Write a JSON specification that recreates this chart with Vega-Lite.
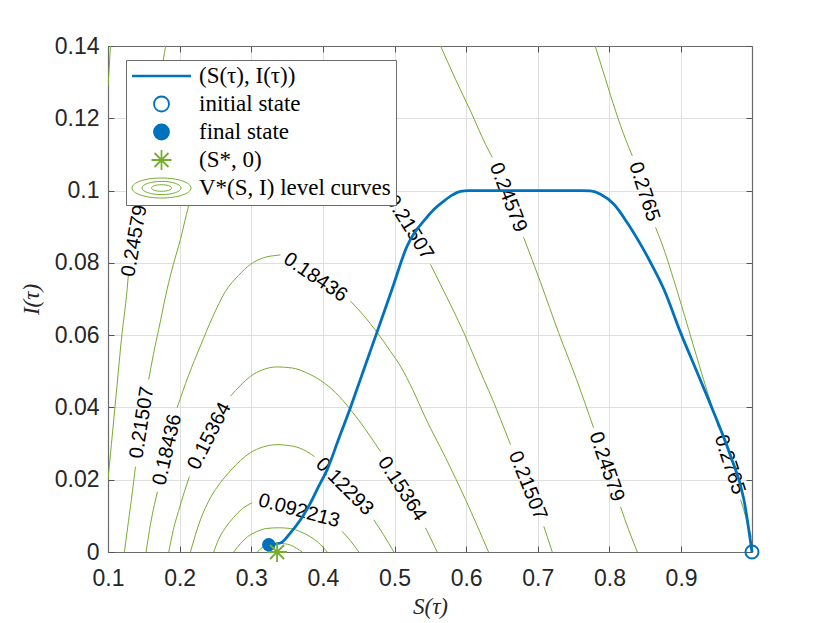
{
  "$schema": "https://vega.github.io/schema/vega-lite/v6.json",
  "description": "Optimal SIR trajectory (S(tau), I(tau)) over the level curves of V*(S, I).",
  "width": 644,
  "height": 506,
  "autosize": {"type": "none"},
  "padding": {"left": 108, "top": 46, "right": 78, "bottom": 71},
  "background": "white",
  "view": {"stroke": null},
  "datasets": {
    "contours": [
      {"level": "0.0307", "part": 1, "S": 0.3082, "I": 0},
      {"level": "0.0307", "part": 1, "S": 0.3142, "I": 0.00105},
      {"level": "0.0307", "part": 1, "S": 0.3212, "I": 0.00175},
      {"level": "0.0307", "part": 1, "S": 0.3296, "I": 0.0023},
      {"level": "0.0307", "part": 1, "S": 0.338, "I": 0.00244},
      {"level": "0.0307", "part": 1, "S": 0.3463, "I": 0.0023},
      {"level": "0.0307", "part": 1, "S": 0.3547, "I": 0.0019},
      {"level": "0.0307", "part": 1, "S": 0.3631, "I": 0.00105},
      {"level": "0.0307", "part": 1, "S": 0.3711, "I": 0},

      {"level": "0.0614", "part": 1, "S": 0.2755, "I": 0},
      {"level": "0.0614", "part": 1, "S": 0.2849, "I": 0.0023},
      {"level": "0.0614", "part": 1, "S": 0.2947, "I": 0.0042},
      {"level": "0.0614", "part": 1, "S": 0.3073, "I": 0.0056},
      {"level": "0.0614", "part": 1, "S": 0.3212, "I": 0.0065},
      {"level": "0.0614", "part": 1, "S": 0.338, "I": 0.0067},
      {"level": "0.0614", "part": 1, "S": 0.3547, "I": 0.0065},
      {"level": "0.0614", "part": 1, "S": 0.3687, "I": 0.0056},
      {"level": "0.0614", "part": 1, "S": 0.3827, "I": 0.0042},
      {"level": "0.0614", "part": 1, "S": 0.3938, "I": 0.0026},
      {"level": "0.0614", "part": 1, "S": 0.406, "I": 0},

      {"level": "0.092213", "part": 1, "S": 0.2476, "I": 0},
      {"level": "0.092213", "part": 1, "S": 0.2542, "I": 0.0034},
      {"level": "0.092213", "part": 1, "S": 0.2639, "I": 0.0067},
      {"level": "0.092213", "part": 1, "S": 0.2751, "I": 0.0095},
      {"level": "0.092213", "part": 1, "S": 0.2877, "I": 0.012},
      {"level": "0.092213", "part": 1, "S": 0.3012, "I": 0.0136},
      {"level": "0.092213", "part": 2, "S": 0.4269, "I": 0.0057},
      {"level": "0.092213", "part": 2, "S": 0.4385, "I": 0.0031},
      {"level": "0.092213", "part": 2, "S": 0.4501, "I": 0},

      {"level": "0.12293", "part": 1, "S": 0.2151, "I": 0},
      {"level": "0.12293", "part": 1, "S": 0.2221, "I": 0.0048},
      {"level": "0.12293", "part": 1, "S": 0.229, "I": 0.0089},
      {"level": "0.12293", "part": 1, "S": 0.243, "I": 0.015},
      {"level": "0.12293", "part": 1, "S": 0.257, "I": 0.0192},
      {"level": "0.12293", "part": 1, "S": 0.2709, "I": 0.0225},
      {"level": "0.12293", "part": 1, "S": 0.2849, "I": 0.0253},
      {"level": "0.12293", "part": 1, "S": 0.2989, "I": 0.0275},
      {"level": "0.12293", "part": 1, "S": 0.3156, "I": 0.029},
      {"level": "0.12293", "part": 1, "S": 0.3361, "I": 0.0297},
      {"level": "0.12293", "part": 1, "S": 0.3547, "I": 0.0294},
      {"level": "0.12293", "part": 1, "S": 0.3729, "I": 0.0283},
      {"level": "0.12293", "part": 1, "S": 0.3883, "I": 0.0264},
      {"level": "0.12293", "part": 2, "S": 0.471, "I": 0.0089},
      {"level": "0.12293", "part": 2, "S": 0.4846, "I": 0.0048},
      {"level": "0.12293", "part": 2, "S": 0.499, "I": 0},

      {"level": "0.15364", "part": 1, "S": 0.1848, "I": 0},
      {"level": "0.15364", "part": 1, "S": 0.1913, "I": 0.0062},
      {"level": "0.15364", "part": 1, "S": 0.1983, "I": 0.0112},
      {"level": "0.15364", "part": 1, "S": 0.2067, "I": 0.0167},
      {"level": "0.15364", "part": 1, "S": 0.2137, "I": 0.0209},
      {"level": "0.15364", "part": 2, "S": 0.2709, "I": 0.0431},
      {"level": "0.15364", "part": 2, "S": 0.2849, "I": 0.0461},
      {"level": "0.15364", "part": 2, "S": 0.2989, "I": 0.0486},
      {"level": "0.15364", "part": 2, "S": 0.3156, "I": 0.0504},
      {"level": "0.15364", "part": 2, "S": 0.3361, "I": 0.0512},
      {"level": "0.15364", "part": 2, "S": 0.3575, "I": 0.0509},
      {"level": "0.15364", "part": 2, "S": 0.3757, "I": 0.0497},
      {"level": "0.15364", "part": 2, "S": 0.3966, "I": 0.0475},
      {"level": "0.15364", "part": 2, "S": 0.4176, "I": 0.0441},
      {"level": "0.15364", "part": 2, "S": 0.4385, "I": 0.0394},
      {"level": "0.15364", "part": 2, "S": 0.4594, "I": 0.0339},
      {"level": "0.15364", "part": 2, "S": 0.4804, "I": 0.0278},
      {"level": "0.15364", "part": 3, "S": 0.5432, "I": 0.0067},
      {"level": "0.15364", "part": 3, "S": 0.5596, "I": 0},

      {"level": "0.18436", "part": 1, "S": 0.1532, "I": 0},
      {"level": "0.18436", "part": 1, "S": 0.1592, "I": 0.0076},
      {"level": "0.18436", "part": 1, "S": 0.1648, "I": 0.0131},
      {"level": "0.18436", "part": 1, "S": 0.169, "I": 0.0167},
      {"level": "0.18436", "part": 2, "S": 0.1965, "I": 0.0399},
      {"level": "0.18436", "part": 2, "S": 0.2123, "I": 0.0488},
      {"level": "0.18436", "part": 2, "S": 0.229, "I": 0.057},
      {"level": "0.18436", "part": 2, "S": 0.2458, "I": 0.0649},
      {"level": "0.18436", "part": 2, "S": 0.2639, "I": 0.0721},
      {"level": "0.18436", "part": 2, "S": 0.2821, "I": 0.0765},
      {"level": "0.18436", "part": 2, "S": 0.2989, "I": 0.0796},
      {"level": "0.18436", "part": 2, "S": 0.317, "I": 0.0814},
      {"level": "0.18436", "part": 2, "S": 0.3361, "I": 0.0821},
      {"level": "0.18436", "part": 2, "S": 0.3407, "I": 0.0822},
      {"level": "0.18436", "part": 3, "S": 0.4385, "I": 0.0694},
      {"level": "0.18436", "part": 3, "S": 0.4567, "I": 0.0655},
      {"level": "0.18436", "part": 3, "S": 0.4758, "I": 0.0607},
      {"level": "0.18436", "part": 3, "S": 0.4944, "I": 0.0555},
      {"level": "0.18436", "part": 3, "S": 0.5083, "I": 0.0514},
      {"level": "0.18436", "part": 3, "S": 0.5251, "I": 0.045},
      {"level": "0.18436", "part": 3, "S": 0.5432, "I": 0.0371},
      {"level": "0.18436", "part": 3, "S": 0.5712, "I": 0.0261},
      {"level": "0.18436", "part": 3, "S": 0.5991, "I": 0.0145},
      {"level": "0.18436", "part": 3, "S": 0.6312, "I": 0},

      {"level": "0.21507", "part": 1, "S": 0.1229, "I": 0},
      {"level": "0.21507", "part": 1, "S": 0.1285, "I": 0.0084},
      {"level": "0.21507", "part": 1, "S": 0.1341, "I": 0.0167},
      {"level": "0.21507", "part": 1, "S": 0.1383, "I": 0.0236},
      {"level": "0.21507", "part": 2, "S": 0.1568, "I": 0.0477},
      {"level": "0.21507", "part": 2, "S": 0.1634, "I": 0.0547},
      {"level": "0.21507", "part": 2, "S": 0.1708, "I": 0.0616},
      {"level": "0.21507", "part": 2, "S": 0.1825, "I": 0.0727},
      {"level": "0.21507", "part": 2, "S": 0.1913, "I": 0.0796},
      {"level": "0.21507", "part": 2, "S": 0.2011, "I": 0.0865},
      {"level": "0.21507", "part": 2, "S": 0.2095, "I": 0.0934},
      {"level": "0.21507", "part": 2, "S": 0.2179, "I": 0.0998},
      {"level": "0.21507", "part": 2, "S": 0.229, "I": 0.1059},
      {"level": "0.21507", "part": 2, "S": 0.243, "I": 0.112},
      {"level": "0.21507", "part": 2, "S": 0.2639, "I": 0.1184},
      {"level": "0.21507", "part": 2, "S": 0.2919, "I": 0.1239},
      {"level": "0.21507", "part": 2, "S": 0.3198, "I": 0.1267},
      {"level": "0.21507", "part": 2, "S": 0.3407, "I": 0.1275},
      {"level": "0.21507", "part": 2, "S": 0.3687, "I": 0.1267},
      {"level": "0.21507", "part": 2, "S": 0.3966, "I": 0.1245},
      {"level": "0.21507", "part": 2, "S": 0.4245, "I": 0.1206},
      {"level": "0.21507", "part": 2, "S": 0.4525, "I": 0.1157},
      {"level": "0.21507", "part": 2, "S": 0.4734, "I": 0.1101},
      {"level": "0.21507", "part": 2, "S": 0.4888, "I": 0.1009},
      {"level": "0.21507", "part": 3, "S": 0.5502, "I": 0.0796},
      {"level": "0.21507", "part": 3, "S": 0.5642, "I": 0.074},
      {"level": "0.21507", "part": 3, "S": 0.5809, "I": 0.0673},
      {"level": "0.21507", "part": 3, "S": 0.5967, "I": 0.0607},
      {"level": "0.21507", "part": 3, "S": 0.613, "I": 0.0531},
      {"level": "0.21507", "part": 3, "S": 0.6247, "I": 0.0477},
      {"level": "0.21507", "part": 3, "S": 0.6368, "I": 0.0422},
      {"level": "0.21507", "part": 3, "S": 0.648, "I": 0.0367},
      {"level": "0.21507", "part": 3, "S": 0.6619, "I": 0.0297},
      {"level": "0.21507", "part": 4, "S": 0.7084, "I": 0.0071},
      {"level": "0.21507", "part": 4, "S": 0.7136, "I": 0.004},
      {"level": "0.21507", "part": 4, "S": 0.7202, "I": 0},

      {"level": "0.24579", "part": 1, "S": 0.1, "I": 0.02},
      {"level": "0.24579", "part": 1, "S": 0.1047, "I": 0.0297},
      {"level": "0.24579", "part": 1, "S": 0.1127, "I": 0.0463},
      {"level": "0.24579", "part": 1, "S": 0.1187, "I": 0.0588},
      {"level": "0.24579", "part": 1, "S": 0.1267, "I": 0.0727},
      {"level": "0.24579", "part": 1, "S": 0.1285, "I": 0.0768},
      {"level": "0.24579", "part": 2, "S": 0.1466, "I": 0.0976},
      {"level": "0.24579", "part": 2, "S": 0.1536, "I": 0.1059},
      {"level": "0.24579", "part": 2, "S": 0.162, "I": 0.117},
      {"level": "0.24579", "part": 2, "S": 0.1704, "I": 0.1267},
      {"level": "0.24579", "part": 2, "S": 0.1774, "I": 0.1364},
      {"level": "0.24579", "part": 2, "S": 0.1804, "I": 0.14},
      {"level": "0.24579", "part": 3, "S": 0.5642, "I": 0.14},
      {"level": "0.24579", "part": 3, "S": 0.5851, "I": 0.1308},
      {"level": "0.24579", "part": 3, "S": 0.6061, "I": 0.122},
      {"level": "0.24579", "part": 3, "S": 0.627, "I": 0.1128},
      {"level": "0.24579", "part": 3, "S": 0.6364, "I": 0.1092},
      {"level": "0.24579", "part": 4, "S": 0.6801, "I": 0.0871},
      {"level": "0.24579", "part": 4, "S": 0.7038, "I": 0.0746},
      {"level": "0.24579", "part": 4, "S": 0.729, "I": 0.0607},
      {"level": "0.24579", "part": 4, "S": 0.7541, "I": 0.0477},
      {"level": "0.24579", "part": 4, "S": 0.7778, "I": 0.0344},
      {"level": "0.24579", "part": 5, "S": 0.8155, "I": 0.0125},
      {"level": "0.24579", "part": 5, "S": 0.8267, "I": 0.0062},
      {"level": "0.24579", "part": 5, "S": 0.8389, "I": 0},

      {"level": "0.2765", "part": 1, "S": 0.1, "I": 0.1289},
      {"level": "0.2765", "part": 1, "S": 0.102, "I": 0.135},
      {"level": "0.2765", "part": 1, "S": 0.1034, "I": 0.14},
      {"level": "0.2765", "part": 2, "S": 0.7801, "I": 0.14},
      {"level": "0.2765", "part": 2, "S": 0.7946, "I": 0.1308},
      {"level": "0.2765", "part": 2, "S": 0.8086, "I": 0.122},
      {"level": "0.2765", "part": 2, "S": 0.8225, "I": 0.1142},
      {"level": "0.2765", "part": 2, "S": 0.8319, "I": 0.1096},
      {"level": "0.2765", "part": 3, "S": 0.8644, "I": 0.0898},
      {"level": "0.2765", "part": 3, "S": 0.877, "I": 0.0832},
      {"level": "0.2765", "part": 3, "S": 0.8896, "I": 0.0754},
      {"level": "0.2765", "part": 3, "S": 0.9105, "I": 0.0616},
      {"level": "0.2765", "part": 3, "S": 0.9314, "I": 0.0477},
      {"level": "0.2765", "part": 3, "S": 0.9524, "I": 0.0344},
      {"level": "0.2765", "part": 4, "S": 0.9831, "I": 0.0145},
      {"level": "0.2765", "part": 4, "S": 0.9915, "I": 0.0089},
      {"level": "0.2765", "part": 4, "S": 0.998, "I": 0.0042}
    ],
    "labels": [
      {"S": 0.3666, "I": 0.0114, "text": "0.092213", "angle": 15},
      {"S": 0.4301, "I": 0.0181, "text": "0.12293", "angle": 45},
      {"S": 0.2416, "I": 0.0321, "text": "0.15364", "angle": -63},
      {"S": 0.5104, "I": 0.0175, "text": "0.15364", "angle": 57},
      {"S": 0.1829, "I": 0.0283, "text": "0.18436", "angle": -77},
      {"S": 0.3896, "I": 0.076, "text": "0.18436", "angle": 34},
      {"S": 0.1473, "I": 0.0358, "text": "0.21507", "angle": -81},
      {"S": 0.5209, "I": 0.0898, "text": "0.21507", "angle": 58},
      {"S": 0.6857, "I": 0.0184, "text": "0.21507", "angle": 68},
      {"S": 0.1369, "I": 0.0861, "text": "0.24579", "angle": -80},
      {"S": 0.6584, "I": 0.0981, "text": "0.24579", "angle": 69},
      {"S": 0.796, "I": 0.0236, "text": "0.24579", "angle": 71},
      {"S": 0.8484, "I": 0.0997, "text": "0.2765", "angle": 72},
      {"S": 0.9677, "I": 0.0242, "text": "0.2765", "angle": 72}
    ],
    "path": [
      {"S": 0.3244, "I": 0.002},
      {"S": 0.3407, "I": 0.0025},
      {"S": 0.3547, "I": 0.0053},
      {"S": 0.3687, "I": 0.0089},
      {"S": 0.3827, "I": 0.0136},
      {"S": 0.3942, "I": 0.0182},
      {"S": 0.406, "I": 0.0228},
      {"S": 0.4217, "I": 0.0311},
      {"S": 0.4385, "I": 0.04},
      {"S": 0.4522, "I": 0.0477},
      {"S": 0.4753, "I": 0.0607},
      {"S": 0.4965, "I": 0.0727},
      {"S": 0.5177, "I": 0.0847},
      {"S": 0.528, "I": 0.0884},
      {"S": 0.5409, "I": 0.0916},
      {"S": 0.5545, "I": 0.0947},
      {"S": 0.5688, "I": 0.0971},
      {"S": 0.581, "I": 0.0988},
      {"S": 0.5921, "I": 0.0998},
      {"S": 0.6033, "I": 0.1},
      {"S": 0.7597, "I": 0.1},
      {"S": 0.7736, "I": 0.0999},
      {"S": 0.7876, "I": 0.099},
      {"S": 0.8062, "I": 0.0962},
      {"S": 0.8249, "I": 0.0911},
      {"S": 0.8435, "I": 0.0851},
      {"S": 0.8574, "I": 0.0801},
      {"S": 0.876, "I": 0.0727},
      {"S": 0.8993, "I": 0.0607},
      {"S": 0.9227, "I": 0.0496},
      {"S": 0.9458, "I": 0.0385},
      {"S": 0.9692, "I": 0.0265},
      {"S": 0.9877, "I": 0.0145},
      {"S": 0.999, "I": 0}
    ]
  },
  "layer": [
    {
      "data": {"name": "contours"},
      "mark": {"type": "line", "strokeWidth": 1, "clip": true, "interpolate": "monotone"},
      "encoding": {
        "x": {
          "field": "S",
          "type": "quantitative",
          "scale": {"domain": [0.1, 0.999], "nice": false, "zero": false},
          "axis": {
            "values": [0.1, 0.2, 0.3, 0.4, 0.5, 0.6, 0.7, 0.8, 0.9],
            "format": ".1f",
            "title": "S(τ)",
            "grid": true,
            "gridColor": "#dfdfdf",
            "gridWidth": 1,
            "tickSize": -6,
            "tickColor": "#555555",
            "domainColor": "#6b6b6b",
            "domainWidth": 1.2,
            "labelFont": "Liberation Sans",
            "labelFontSize": 23,
            "labelColor": "#262626",
            "labelPadding": 21,
            "labelFlush": false,
            "labelOverlap": false,
            "titleFont": "Liberation Serif",
            "titleFontSize": 23,
            "titleFontStyle": "italic",
            "titleFontWeight": "normal",
            "titleColor": "#262626",
            "titlePadding": 5
          }
        },
        "y": {
          "field": "I",
          "type": "quantitative",
          "scale": {"domain": [0, 0.14], "nice": false, "zero": false},
          "axis": {
            "values": [0, 0.02, 0.04, 0.06, 0.08, 0.1, 0.12, 0.14],
            "format": ".2~f",
            "title": "I(τ)",
            "grid": true,
            "gridColor": "#dfdfdf",
            "gridWidth": 1,
            "tickSize": -6,
            "tickColor": "#555555",
            "domainColor": "#6b6b6b",
            "domainWidth": 1.2,
            "labelFont": "Liberation Sans",
            "labelFontSize": 23,
            "labelColor": "#262626",
            "labelPadding": 15,
            "labelFlush": false,
            "labelOverlap": false,
            "titleFont": "Liberation Serif",
            "titleFontSize": 23,
            "titleFontStyle": "italic",
            "titleFontWeight": "normal",
            "titleColor": "#262626",
            "titlePadding": 11
          }
        },
        "detail": [{"field": "level"}, {"field": "part"}],
        "color": {
          "datum": "V*(S, I) level curves",
          "type": "nominal",
          "scale": {
            "domain": ["(S(τ), I(τ))", "initial state", "final state", "(S*, 0)", "V*(S, I) level curves"],
            "range": ["#0072BD", "#0072BD", "#0072BD", "#77AC30", "#77AC30"]
          },
          "legend": {
            "title": null,
            "orient": "none",
            "direction": "vertical",
            "legendX": 18,
            "legendY": 14,
            "fillColor": "white",
            "strokeColor": "#6b6b6b",
            "padding": 5,
            "cornerRadius": 0,
            "labelFont": "Liberation Serif",
            "labelFontSize": 23,
            "labelColor": "black",
            "labelLimit": 400,
            "symbolSize": 400,
            "symbolOffset": 19,
            "labelOffset": 26,
            "clipHeight": 22,
            "rowPadding": 5,
            "encode": {
              "symbols": {
                "update": {
                  "shape": {"signal": "datum.index === 0 ? 'M-2.95,0L2.95,0' : datum.index <= 2 ? 'M-0.75,0A0.75,0.75 0 1,0 0.75,0A0.75,0.75 0 1,0 -0.75,0Z' : datum.index === 3 ? 'M-1,0L1,0M0,-1L0,1M-0.7,-0.7L0.7,0.7M-0.7,0.7L0.7,-0.7' : 'M-2.95,0A2.95,1 0 1,0 2.95,0A2.95,1 0 1,0 -2.95,0ZM-1.95,0A1.95,0.66 0 1,0 1.95,0A1.95,0.66 0 1,0 -1.95,0ZM-1,0A1,0.33 0 1,0 1,0A1,0.33 0 1,0 -1,0Z'"},
                  "fill": {"signal": "datum.index <= 2 ? '#0072BD' : '#77AC30'"},
                  "fillOpacity": {"signal": "datum.index === 2 ? 1 : 0"},
                  "stroke": {"signal": "datum.index <= 2 ? '#0072BD' : '#77AC30'"},
                  "strokeOpacity": {"value": 1},
                  "strokeWidth": {"signal": "datum.index === 0 ? 2.6 : datum.index === 4 ? 1 : 1.8"},
                  "size": {"value": 400},
                  "opacity": {"value": 1}
                }
              }
            }
          }
        }
      }
    },
    {
      "data": {"name": "labels"},
      "mark": {"type": "text", "font": "Liberation Sans", "fontSize": 20, "color": "black", "align": "center", "baseline": "middle"},
      "encoding": {
        "x": {"field": "S", "type": "quantitative", "axis": null},
        "y": {"field": "I", "type": "quantitative", "axis": null},
        "text": {"field": "text"},
        "angle": {"field": "angle", "type": "quantitative", "scale": null}
      }
    },
    {
      "data": {"name": "path"},
      "mark": {"type": "line", "strokeWidth": 2.8, "interpolate": "monotone"},
      "encoding": {
        "x": {
          "field": "S",
          "type": "quantitative",
          "axis": {
            "orient": "top",
            "values": [0.1, 0.2, 0.3, 0.4, 0.5, 0.6, 0.7, 0.8, 0.9],
            "labels": false,
            "grid": false,
            "title": null,
            "tickSize": -6,
            "tickColor": "#555555",
            "domainColor": "#6b6b6b",
            "domainWidth": 1.2
          }
        },
        "y": {
          "field": "I",
          "type": "quantitative",
          "axis": {
            "orient": "right",
            "values": [0, 0.02, 0.04, 0.06, 0.08, 0.1, 0.12, 0.14],
            "labels": false,
            "grid": false,
            "title": null,
            "tickSize": -6,
            "tickColor": "#555555",
            "domainColor": "#6b6b6b",
            "domainWidth": 1.2
          }
        },
        "color": {"datum": "(S(τ), I(τ))", "type": "nominal"}
      }
    },
    {
      "data": {"values": [{"S": 0.999, "I": 0}]},
      "mark": {"type": "point", "filled": false, "size": 170, "strokeWidth": 2, "opacity": 1},
      "encoding": {
        "x": {"field": "S", "type": "quantitative", "axis": null},
        "y": {"field": "I", "type": "quantitative", "axis": null},
        "color": {"datum": "initial state", "type": "nominal"}
      }
    },
    {
      "data": {"values": [{"S": 0.3244, "I": 0.002}]},
      "mark": {"type": "point", "filled": true, "size": 180, "opacity": 1},
      "encoding": {
        "x": {"field": "S", "type": "quantitative", "axis": null},
        "y": {"field": "I", "type": "quantitative", "axis": null},
        "color": {"datum": "final state", "type": "nominal"}
      }
    },
    {
      "data": {"values": [{"S": 0.336, "I": 0}]},
      "mark": {"type": "point", "filled": false, "shape": "M-1,0L1,0M0,-1L0,1M-0.7,-0.7L0.7,0.7M-0.7,0.7L0.7,-0.7", "size": 400, "strokeWidth": 1.8, "opacity": 1},
      "encoding": {
        "x": {"field": "S", "type": "quantitative", "axis": null},
        "y": {"field": "I", "type": "quantitative", "axis": null},
        "color": {"datum": "(S*, 0)", "type": "nominal"}
      }
    }
  ],
  "resolve": {"axis": {"x": "independent", "y": "independent"}}
}
